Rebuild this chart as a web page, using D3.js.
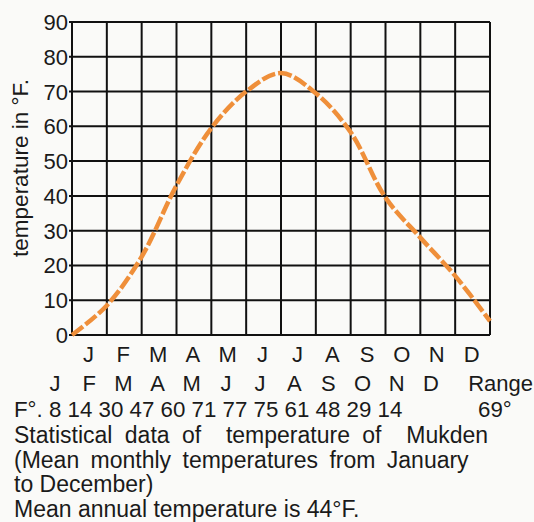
<!DOCTYPE html>
<html>
<head>
<meta charset="utf-8">
<script src="https://cdn.jsdelivr.net/npm/d3@7"></script>
<style>
  body { margin: 0; background: #fafaf8; }
  svg { display: block; }
  text { font-family: "Liberation Sans", Arial, sans-serif; fill: #1a1a1a; }
</style>
</head>
<body>
<div id="chart"></div>
<script>
// chart data
const months = ["J", "F", "M", "A", "M", "J", "J", "A", "S", "O", "N", "D"];
const yTicks = [0, 10, 20, 30, 40, 50, 60, 70, 80, 90];
// curve as drawn, at each month boundary (0 = start of Jan ... 12 = end of Dec)
const curveTemps = [0, 8.5, 22.5, 43, 59.5, 70, 75.3, 69.5, 58.3, 39.5, 28, 17, 4];
// printed table of mean monthly temps
const tableTemps = [8, 14, 30, 47, 60, 71, 77, 75, 61, 48, 29, 14];
const rangeLabel = "69°";
const caption = [
  "Statistical data of  temperature of  Mukden",
  "(Mean monthly temperatures from January",
  "to December)",
  "Mean annual temperature is 44°F."
];

const width = 534, height = 522;
const plot = {left: 72, right: 490, top: 22, bottom: 335};

let svg = d3.select("#chart")
    .append("svg")
    .attr("width", width)
    .attr("height", height);

let x = d3.scaleLinear()
    .domain([0, 12])
    .range([plot.left, plot.right]);

let y = d3.scaleLinear()
    .domain([0, 90])
    .range([plot.bottom, plot.top]);

// band scale for the month letters under the grid
let xMonth = d3.scaleBand()
    .domain(d3.range(12))
    .range([plot.left, plot.right]);

// second row of letters sits on its own spacing
let xMonth2 = d3.scaleBand()
    .domain(d3.range(12))
    .range([38, 448]);

let grid = svg.append("g")
    .attr("stroke", "#111")
    .attr("stroke-width", 2);

grid.selectAll("line.h").data(yTicks)
    .enter()
    .append("line")
    .attr("class", "h")
    .attr("x1", plot.left - 3)
    .attr("x2", plot.right)
    .attr("y1", d => y(d))
    .attr("y2", d => y(d));

grid.selectAll("line.v").data(d3.range(13))
    .enter()
    .append("line")
    .attr("class", "v")
    .attr("x1", d => x(d))
    .attr("x2", d => x(d))
    .attr("y1", plot.top)
    .attr("y2", plot.bottom);

// y tick labels
svg.append("g").selectAll("text").data(yTicks)
    .enter()
    .append("text")
    .attr("x", plot.left - 4)
    .attr("y", d => y(d) + 8)
    .style("text-anchor", "end")
    .style("font-size", "22px")
    .text(d => d);

svg.append("text")
    .attr("transform", `translate(28, 168) rotate(-90)`)
    .style("text-anchor", "middle")
    .style("font-size", "22.5px")
    .text("temperature in °F.");

// temperature curve
let line = d3.line()
    .x((d, i) => x(i))
    .y(d => y(d))
    .curve(d3.curveCatmullRom.alpha(0.5));

svg.append("path")
    .datum(curveTemps)
    .attr("d", line)
    .attr("fill", "none")
    .attr("stroke", "#ef8f3a")
    .attr("stroke-width", 4.5)
    .attr("stroke-dasharray", "14,3")
    .attr("stroke-linecap", "butt");

// month letters, row 1 (under columns)
svg.append("g").selectAll("text").data(months)
    .enter()
    .append("text")
    .attr("x", (d, i) => xMonth(i) + xMonth.bandwidth() / 2 - 1)
    .attr("y", 362)
    .style("text-anchor", "middle")
    .style("font-size", "22px")
    .text(d => d);

// month letters, row 2 (table header)
svg.append("g").selectAll("text").data(months)
    .enter()
    .append("text")
    .attr("x", (d, i) => xMonth2(i) + xMonth2.bandwidth() / 2)
    .attr("y", 391)
    .style("text-anchor", "middle")
    .style("font-size", "22px")
    .text(d => d);

svg.append("text")
    .attr("x", 533)
    .attr("y", 391)
    .style("text-anchor", "end")
    .style("font-size", "22px")
    .text("Range");

// table values
svg.append("text")
    .attr("x", 14)
    .attr("y", 417)
    .style("font-size", "22.3px")
    .text("F°. " + tableTemps.join(" "));

svg.append("text")
    .attr("x", 478)
    .attr("y", 417)
    .style("font-size", "22.3px")
    .text(rangeLabel);

// caption; the first two lines are set looser in the print
svg.append("g").selectAll("text").data(caption)
    .enter()
    .append("text")
    .attr("x", 14)
    .attr("y", (d, i) => 443 + i * 24.5)
    .style("font-size", "23px")
    .style("white-space", "pre")
    .style("word-spacing", (d, i) => i === 0 ? "6px" : i === 1 ? "5px" : "0px")
    .text(d => d);
</script>
</body>
</html>
